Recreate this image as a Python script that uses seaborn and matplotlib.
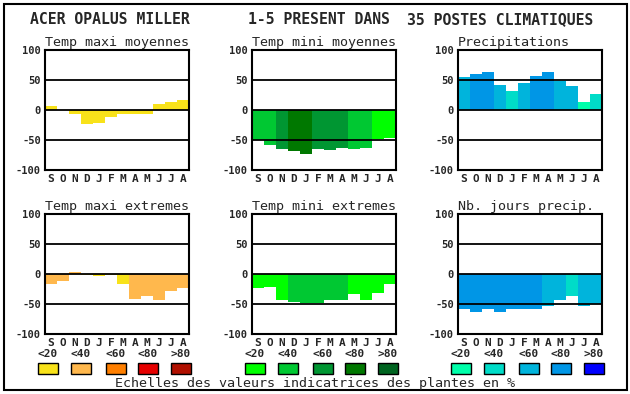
import pandas as pd
import matplotlib
matplotlib.use("Agg")
import matplotlib.pyplot as plt
from matplotlib.patches import Rectangle
import seaborn as sns

sns.set_theme(style="white")
plt.rcParams['font.family'] = ['DejaVu Sans Mono', 'DejaVu Sans']

W, H = 630, 394

# --- data -------------------------------------------------------------
months = ["S", "O", "N", "D", "J", "F", "M", "A", "M", "J", "J", "A"]
scale_labels = ["<20", "<40", "<60", "<80", ">80"]

warm_colors = ["#f8e21a", "#ffb84d", "#ff7f00", "#e60000", "#b01000"]
cold_colors = ["#00ff00", "#00c832", "#009632", "#007800", "#006420"]
wet_colors = ["#00ffaa", "#00dcc8", "#00b4dc", "#0096e6", "#0000ff"]

tmax_moy = [7, 0, -6, -23, -22, -12, -6, -6, -6, 10, 13, 17]
tmax_moy_cls = [0, 0, 0, 0, 0, 0, 0, 0, 0, 0, 0, 0]

tmin_moy = [-50, -58, -65, -68, -73, -65, -67, -63, -65, -63, -48, -47]
tmin_moy_cls = [1, 1, 2, 3, 3, 2, 2, 2, 1, 1, 0, 0]

precip = [55, 60, 63, 42, 32, 45, 57, 63, 48, 40, 13, 27]
precip_cls = [2, 3, 3, 2, 1, 2, 3, 3, 2, 2, 0, 1]

tmax_ext = [-17, -11, 4, -2, -3, -1, -16, -41, -36, -44, -28, -24]
tmax_ext_cls = [1, 1, 1, 0, 0, 0, 0, 1, 1, 1, 1, 1]

tmin_ext = [-24, -21, -44, -46, -49, -49, -44, -43, -33, -43, -31, -16]
tmin_ext_cls = [0, 0, 0, 1, 1, 1, 1, 1, 0, 0, 0, 0]

jours = [-58, -64, -58, -63, -58, -58, -58, -53, -44, -36, -54, -50]
jours_cls = [3, 3, 3, 3, 3, 3, 3, 2, 2, 1, 2, 2]

panels = [
    ("Temp maxi moyennes", tmax_moy, tmax_moy_cls, warm_colors, 45, 50),
    ("Temp mini moyennes", tmin_moy, tmin_moy_cls, cold_colors, 252, 50),
    ("Precipitations", precip, precip_cls, wet_colors, 458, 50),
    ("Temp maxi extremes", tmax_ext, tmax_ext_cls, warm_colors, 45, 214),
    ("Temp mini extremes", tmin_ext, tmin_ext_cls, cold_colors, 252, 214),
    ("Nb. jours precip.", jours, jours_cls, wet_colors, 458, 214),
]
PW, PH = 144, 120


def fx(x):
    return x / W


def fy(y):
    return 1 - y / H


fig = plt.figure(figsize=(W / 100, H / 100), dpi=100)
fig.patch.set_facecolor("white")

# outer frame
fig.add_artist(Rectangle((fx(4), fy(390)), fx(623), (386) / H, transform=fig.transFigure,
                         fill=False, edgecolor="black", linewidth=1.5))

for title, vals, cls, cols, left, top in panels:
    ax = fig.add_axes([fx(left), fy(top + PH), PW / W, PH / H])
    keys = [f"{m}{i}" for i, m in enumerate(months)]
    df = pd.DataFrame({"key": keys, "value": vals})
    pal = {k: cols[c] for k, c in zip(keys, cls)}
    sns.barplot(data=df, x="key", y="value", hue="key", palette=pal, legend=False,
                width=1.0, saturation=1, linewidth=0, ax=ax)
    for yv in (50, 0, -50):
        ax.axhline(yv, color="black", linewidth=1.3, zorder=5)
    ax.set_xlim(-0.5, 11.5)
    ax.set_ylim(-100, 100)
    ax.set_yticks([100, 50, 0, -50, -100])
    ax.set_yticklabels(["100", "50", "0", "-50", "-100"], fontsize=7.5, fontweight="bold")
    ax.set_xticks(range(12))
    ax.set_xticklabels(months, fontsize=8, fontweight="bold")
    ax.tick_params(length=0, pad=3)
    ax.set_xlabel("")
    ax.set_ylabel("")
    for s in ax.spines.values():
        s.set_visible(True)
        s.set_color("black")
        s.set_linewidth(1.5)
    ax.set_facecolor("white")
    fig.text(fx(left), fy(top - 4), title, fontsize=9.6, ha="left", va="baseline")

# header
fig.text(fx(30), fy(24), "ACER OPALUS MILLER", fontsize=10.6, fontweight="bold", va="baseline")
fig.text(fx(248), fy(24), "1-5 PRESENT DANS", fontsize=10.6, fontweight="bold", va="baseline")
fig.text(fx(407), fy(24), "35 POSTES CLIMATIQUES", fontsize=10.6, fontweight="bold", va="baseline")

# legend scales
offsets = [4, 37, 72, 104, 137]
for cols, left in ((warm_colors, 39), (cold_colors, 246), (wet_colors, 452)):
    for off, col, lab in zip(offsets, cols, scale_labels):
        x0 = left + off - 5
        fig.add_artist(Rectangle((fx(x0), fy(374)), 20 / W, 11 / H, transform=fig.transFigure,
                                 facecolor=col, edgecolor="black", linewidth=1))
        fig.text(fx(x0 + 10), fy(354), lab, fontsize=8, fontweight="bold", ha="center", va="center")

fig.text(fx(315), fy(383), "Echelles des valeurs indicatrices des plantes en %",
         fontsize=9.6, ha="center", va="center")

fig.savefig("out.png", dpi=100)
